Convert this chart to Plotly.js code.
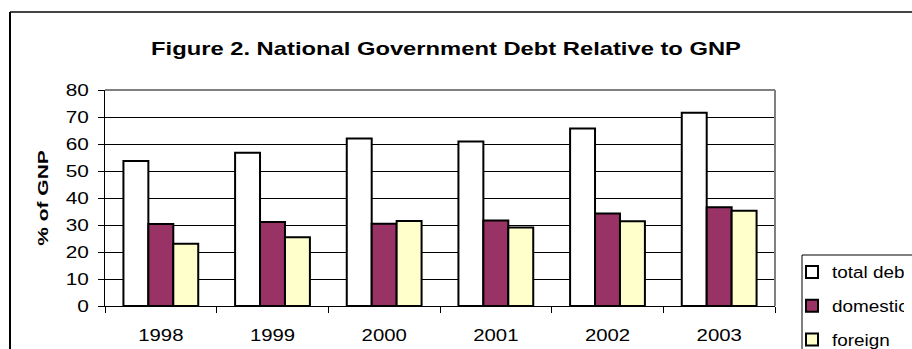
<!DOCTYPE html>
<html>
<head>
<meta charset="utf-8">
<script src="https://cdn.plot.ly/plotly-3.0.1.min.js"></script>
<style>
html,body{margin:0;padding:0;background:#fff;}
#chart{width:912px;height:349px;}
</style>
</head>
<body>
<div id="chart"></div>
<script>
const years = ["1998", "1999", "2000", "2001", "2002", "2003"];
const totalDebt = [53.7, 56.8, 62.0, 60.9, 65.7, 71.6];
const domestic = [30.4, 31.1, 30.5, 31.7, 34.3, 36.6];
const foreign = [23.1, 25.5, 31.5, 29.1, 31.4, 35.3];
const seriesNames = ["total debt", "domestic", "foreign"];
const yTicks = [0, 10, 20, 30, 40, 50, 60, 70, 80];

const colors = ["#ffffff", "#993366", "#ffffcc"];
const data = [totalDebt, domestic, foreign].map((vals, i) => ({
  type: "bar",
  x: years,
  y: vals,
  name: seriesNames[i],
  legendgroup: "g" + i,
  marker: {color: colors[i], line: {color: "#000000", width: 2}},
  hoverinfo: "none"
}));

const PW = 670, PH = 216, L = 105, T = 90;
const px = x => (x - L) / PW;
const py = y => (T + PH - y) / PH;

const layout = {
  width: 912,
  height: 349,
  margin: {l: L, r: 912 - L - PW, t: T, b: 349 - T - PH, autoexpand: false},
  paper_bgcolor: "#ffffff",
  plot_bgcolor: "#ffffff",
  font: {family: "Liberation Sans, Arial, sans-serif", color: "#000000", size: 16},
  title: {
    text: "<b>Figure 2. National Government Debt Relative to GNP</b>",
    font: {size: 19, family: "Liberation Sans, Arial, sans-serif", color: "#000"},
    x: 446 / 912, xanchor: "center", xref: "container",
    y: 1 - 48 / 349, yanchor: "middle", yref: "container"
  },
  bargap: 0.33,
  bargroupgap: 0,
  showlegend: true,
  legend: {
    x: px(792), xanchor: "left",
    y: py(255), yanchor: "top",
    borderwidth: 0,
    bgcolor: "rgba(0,0,0,0)",
    font: {size: 16},
    traceorder: "grouped",
    tracegroupgap: 10
  },
  xaxis: {
    type: "category",
    showgrid: false,
    showline: true, linecolor: "#000000", linewidth: 1,
    ticks: "outside", ticklen: 6, tickcolor: "#000000",
    tickson: "boundaries",
    tickfont: {size: 16},
    ticklabelstandoff: 15,
    fixedrange: true,
    zeroline: false
  },
  yaxis: {
    range: [0, 80],
    tickvals: yTicks,
    ticktext: yTicks.map(String),
    showgrid: true, gridcolor: "#000000", gridwidth: 1,
    showline: true, linecolor: "#000000", linewidth: 1,
    ticks: "outside", ticklen: 6, tickcolor: "#000000",
    tickfont: {size: 16},
    ticklabelstandoff: 6,
    zeroline: false,
    fixedrange: true,
    title: {text: "<b>% of GNP</b>", font: {size: 15}, standoff: 18}
  },
  shapes: [
    {type: "line", xref: "paper", yref: "paper", x0: px(10), x1: px(915), y0: py(12), y1: py(12), line: {color: "#444444", width: 2}},
    {type: "line", xref: "paper", yref: "paper", x0: px(10), x1: px(10), y0: py(12), y1: py(360), line: {color: "#000000", width: 2}},
    {type: "line", xref: "paper", yref: "paper", x0: 0, x1: 1, y0: 1, y1: 1, line: {color: "#808080", width: 2}},
    {type: "line", xref: "paper", yref: "paper", x0: 1, x1: 1, y0: 0, y1: 1, line: {color: "#808080", width: 2}},
    {type: "line", xref: "paper", yref: "paper", x0: px(802), x1: px(915), y0: py(255), y1: py(255), line: {color: "#000000", width: 1}},
    {type: "line", xref: "paper", yref: "paper", x0: px(802), x1: px(802), y0: py(255), y1: py(360), line: {color: "#000000", width: 1}}
  ]
};

function stretch(sel, k) {
  document.querySelectorAll(sel).forEach(el => {
    const len = el.getComputedTextLength();
    if (len > 0) {
      el.setAttribute("textLength", (len * k).toFixed(1));
      el.setAttribute("lengthAdjust", "spacingAndGlyphs");
    }
  });
}

Plotly.newPlot("chart", data, layout, {displayModeBar: false, staticPlot: true}).then(() => {
  stretch("#chart .xtick text", 1.27);
  stretch("#chart .ytick text", 1.3);
  stretch("#chart .gtitle", 1.25);
  stretch("#chart .ytitle", 1.4);
  stretch("#chart .legendtext", 1.18);
});
</script>
</body>
</html>
